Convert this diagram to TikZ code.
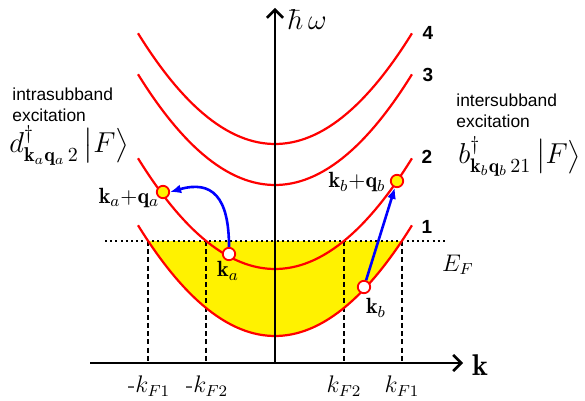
\documentclass[tikz,border=0pt]{standalone}
\usepackage{amsmath,amssymb}
\usepackage{fontspec}
\setsansfont{Liberation Sans}
\usepackage{tikz}
\usetikzlibrary{arrows.meta}

\begin{document}
\begin{tikzpicture}[
x=0.5pt,
y=-0.5pt,
band/.style={red,line width=1.1pt},
axis/.style={line width=1.3pt,-{Straight Barb[length=4pt,width=8pt]}},
fermi/.style={line width=1.2pt,dash pattern=on 1pt off 1.6pt},
kline/.style={line width=0.7pt,dash pattern=on 2.5pt off 1.6pt},
occ/.style={circle,draw=red,line width=0.9pt,fill=white,inner sep=0pt,minimum size=6.2pt},
exc/.style={occ,fill=yellow},
barr/.style={blue,line width=1.3pt,-{Latex[length=5.5pt,width=4.5pt]}},
bnum/.style={font=\sffamily\bfseries\fontsize{9.5}{11}\selectfont,inner sep=0pt},
note/.style={font=\sffamily\fontsize{8.7}{10.5}\selectfont,align=left,inner sep=0pt},
lbl/.style={font=\fontsize{11}{13}\selectfont,inner sep=0pt},
klbl/.style={font=\fontsize{11.5}{13}\selectfont,inner sep=0pt}
]
\useasboundingbox (0,0) rectangle (585,401);

% occupied states below E_F in band 1
\fill[yellow] (148.1,241) -- plot[domain=-1.269:1.269,samples=50] ({275+100*\x},{336-59*\x*\x}) -- cycle;

\coordinate (origin) at (275,363);
\coordinate (xstart) at (90,363);
\coordinate (xend) at (463,363);
\coordinate (yend) at (275,8);
\coordinate (efl) at (105,241);
\coordinate (efr) at (448,241);
\coordinate (mkf1) at (148.1,241);
\coordinate (mkf2) at (206.1,241);
\coordinate (pkf2) at (343.9,241);
\coordinate (pkf1) at (401.9,241);

\draw[fermi] (efl) -- (efr);
\draw[kline] (mkf1) -- (mkf1 |- origin);
\draw[kline] (mkf2) -- (mkf2 |- origin);
\draw[kline] (pkf2) -- (pkf2 |- origin);
\draw[kline] (pkf1) -- (pkf1 |- origin);

% subbands
\draw[band] plot[domain=-1.37:1.37,samples=60] ({275+100*\x},{336-59*\x*\x});
\draw[band] plot[domain=-1.37:1.37,samples=60] ({275+100*\x},{269-59*\x*\x});
\draw[band] plot[domain=-1.37:1.37,samples=60] ({275+100*\x},{185-59*\x*\x});
\draw[band] plot[domain=-1.37:1.37,samples=60] ({275+100*\x},{144-59*\x*\x});

\node[bnum] (n1) at (427,227) {1};
\node[bnum] (n2) at (427,157) {2};
\node[bnum] (n3) at (428,75) {3};
\node[bnum] (n4) at (428,33) {4};

\draw[axis] (xstart) -- (xend);
\draw[axis] (origin) -- (yend);
\node[font=\bfseries\fontsize{15}{17}\selectfont,inner sep=0pt] (kax) at (480,365) {$\mathbf{k}$};
\node[font=\fontsize{15.5}{17}\selectfont,inner sep=0pt,anchor=base west] (hw) at (287,30) {$\hbar\,\omega$};
\node[font=\fontsize{12}{14}\selectfont,inner sep=0pt] (ef) at (458,265) {$E_F$};

\node[klbl] (lmkf1) at (149,386) {-$k_{F1}$};
\node[klbl] (lmkf2) at (207,386) {-$k_{F2}$};
\node[klbl] (lpkf2) at (344,386) {$k_{F2}$};
\node[klbl] (lpkf1) at (402,386) {$k_{F1}$};

% intrasubband excitation
\node[occ] (ka) at (229,254) {};
\node[exc] (kaq) at (163,192) {};
\node[lbl] (lka) at (228,271) {$\mathbf{k}_a$};
\node[lbl] (lkaq) at (129,198) {$\mathbf{k}_a{+}\mathbf{q}_a$};
\draw[barr] (ka.north) .. controls +(0,-50) and +(42,-12) .. (kaq.east);

% intersubband excitation
\node[occ] (kb) at (364,287) {};
\node[exc] (kbq) at (397,181) {};
\node[lbl] (lkb) at (376,308) {$\mathbf{k}_b$};
\node[lbl] (lkbq) at (357,182) {$\mathbf{k}_b{+}\mathbf{q}_b$};
\draw[barr] (kb) -- (kbq);

\node[note,anchor=north west] (intra) at (12,87) {intrasubband\\excitation};
\node[font=\fontsize{14.4}{16}\selectfont,inner sep=0pt,anchor=base west] (dstate) at (9,153) {$d^{\dagger}_{\mathbf{k}_a\mathbf{q}_a\,2}\,\bigl|F\bigr\rangle$};
\node[note,anchor=north west] (inter) at (456,93) {intersubband\\excitation};
\node[font=\fontsize{14}{16}\selectfont,inner sep=0pt,anchor=base west] (bstate) at (458,164) {$b^{\dagger}_{\mathbf{k}_b\mathbf{q}_b\,21}\,\bigl|F\bigr\rangle$};
\end{tikzpicture}
\end{document}
